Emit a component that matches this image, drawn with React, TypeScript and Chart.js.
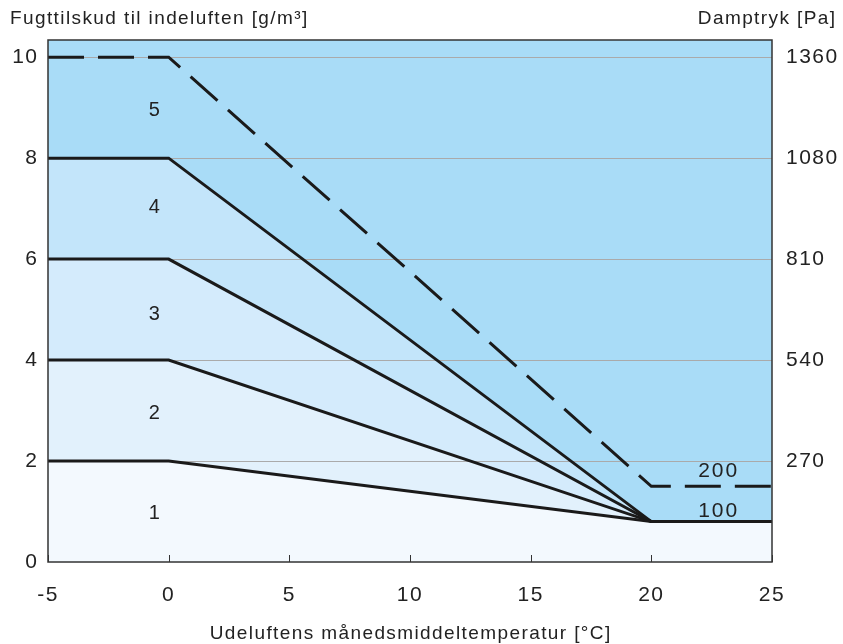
import React, { useEffect, useRef } from "react";
import { Chart, registerables } from "chart.js";

Chart.register(...registerables);

// ---- data ----
const xBreaks = [-5, 0, 20, 25];
const class1Top = [2, 2, 0.8, 0.8];
const class2Top = [4, 4, 0.8, 0.8];
const class3Top = [6, 6, 0.8, 0.8];
const class4Top = [8, 8, 0.8, 0.8];
const class5Top = [10, 10, 1.5, 1.5];
const leftTicks = [0, 2, 4, 6, 8, 10];
const rightTickLabels = ["", "270", "540", "810", "1080", "1360"];
const xTicks = [-5, 0, 5, 10, 15, 20, 25];
const classLabels = ["1", "2", "3", "4", "5"];
const classLabelX = [-0.6, -0.6, -0.6, -0.6, -0.6];
const classLabelY = [0.97, 2.95, 4.9, 7.03, 8.95];
const endLabels = ["200", "100"];
const endLabelX = [22.75, 22.75];
const endLabelY = [1.8, 1.0];

const leftTitle = "Fugttilskud til indeluften [g/m³]";
const rightTitle = "Damptryk [Pa]";
const xTitle = "Udeluftens månedsmiddeltemperatur [°C]";

const FONT = "'Liberation Sans', Arial, Helvetica, sans-serif";
const TEXT = "#222222";
const regionColors = ["#f3f9fe", "#e2f1fc", "#d4ebfc", "#c3e5fa", "#a9dcf7"];

const pts = (ys: number[]) => xBreaks.map((x, i) => ({ x, y: ys[i] }));

export default function App() {
  const ref = useRef<HTMLCanvasElement | null>(null);

  useEffect(() => {
    document.body.style.margin = "0";
    const canvas = ref.current!;
    const line = (ys: number[], fill: any, bg: string, dashed = false) => ({
      data: pts(ys),
      borderColor: "#1a1a1a",
      borderWidth: 3,
      borderDash: dashed ? [36, 14] : [],
      backgroundColor: bg,
      fill,
      pointRadius: 0,
      tension: 0,
    });

    const deco = {
      id: "deco",
      beforeDraw(chart: any) {
        const { ctx, chartArea: a } = chart;
        ctx.save();
        ctx.fillStyle = regionColors[4];
        ctx.fillRect(a.left, a.top, a.right - a.left, a.bottom - a.top);
        ctx.restore();
        (ctx as any).letterSpacing = "1.5px";
      },
      beforeDatasetsDraw(chart: any) {
        const { ctx, chartArea: a, scales } = chart;
        ctx.save();
        ctx.strokeStyle = "#aaaaaa";
        ctx.lineWidth = 1;
        leftTicks.forEach((v) => {
          if (v === 0) return;
          const y = Math.round(scales.y.getPixelForValue(v)) + 0.5;
          ctx.beginPath();
          ctx.moveTo(a.left, y);
          ctx.lineTo(a.right, y);
          ctx.stroke();
        });
        ctx.restore();
      },
      afterDatasetsDraw(chart: any) {
        const { ctx, chartArea: a, scales } = chart;
        ctx.save();
        ctx.fillStyle = TEXT;
        ctx.textAlign = "left";
        ctx.textBaseline = "middle";
        (ctx as any).letterSpacing = "2px";
        const centered = (t: string, x: number, y: number) => {
          const w = ctx.measureText(t).width - 2;
          ctx.fillText(t, x - w / 2, y);
        };
        ctx.font = `20px ${FONT}`;
        classLabels.forEach((t, i) => {
          centered(t, scales.x.getPixelForValue(classLabelX[i]), scales.y.getPixelForValue(classLabelY[i]));
        });
        ctx.font = `21px ${FONT}`;
        endLabels.forEach((t, i) => {
          centered(t, scales.x.getPixelForValue(endLabelX[i]), scales.y.getPixelForValue(endLabelY[i]));
        });
        // box
        ctx.strokeStyle = "#333333";
        ctx.lineWidth = 1.5;
        ctx.strokeRect(a.left, a.top, a.right - a.left, a.bottom - a.top);
        // inside x ticks
        ctx.lineWidth = 1;
        xTicks.forEach((v) => {
          const x = Math.round(scales.x.getPixelForValue(v)) + 0.5;
          ctx.beginPath();
          ctx.moveTo(x, a.bottom);
          ctx.lineTo(x, a.bottom - 7);
          ctx.stroke();
        });
        // titles
        ctx.font = `19px ${FONT}`;
        (ctx as any).letterSpacing = "1.4px";
        ctx.textBaseline = "alphabetic";
        ctx.textAlign = "left";
        ctx.fillText(leftTitle, 10, 24);
        const rw = ctx.measureText(rightTitle).width - 1.4;
        ctx.fillText(rightTitle, 835 - rw, 24);
        const xw = ctx.measureText(xTitle).width - 1.4;
        ctx.fillText(xTitle, (a.left + a.right) / 2 - xw / 2, 639);
        ctx.restore();
      },
    };

    const chart = new Chart(canvas, {
      type: "line",
      data: {
        datasets: [
          line(class1Top, "origin", regionColors[0]),
          line(class2Top, "-1", regionColors[1]),
          line(class3Top, "-1", regionColors[2]),
          line(class4Top, "-1", regionColors[3]),
          line(class5Top, false, "transparent", true),
        ] as any,
      },
      options: {
        responsive: false,
        animation: false,
        layout: { padding: { top: 40, left: 0, right: 0, bottom: 0 } },
        plugins: {
          legend: { display: false },
          tooltip: { enabled: false },
          filler: { drawTime: "beforeDatasetsDraw" } as any,
        },
        scales: {
          x: {
            type: "linear",
            min: -5,
            max: 25,
            afterBuildTicks: (s: any) => {
              s.ticks = xTicks.map((v) => ({ value: v }));
            },
            afterFit: (s: any) => {
              s.height = 82;
            },
            grid: { display: false, drawTicks: false },
            border: { display: false },
            ticks: { padding: 21, color: TEXT, font: { size: 21, family: FONT } },
          },
          y: {
            type: "linear",
            position: "left",
            min: 0,
            max: 10.34,
            afterBuildTicks: (s: any) => {
              s.ticks = leftTicks.map((v) => ({ value: v }));
            },
            afterFit: (s: any) => {
              s.width = 48;
            },
            grid: { display: false, drawTicks: false },
            border: { display: false },
            ticks: { padding: 9.5, color: TEXT, font: { size: 21, family: FONT } },
          },
          y2: {
            type: "linear",
            position: "right",
            min: 0,
            max: 10.34,
            afterBuildTicks: (s: any) => {
              s.ticks = leftTicks.map((v) => ({ value: v }));
            },
            afterFit: (s: any) => {
              s.width = 71;
            },
            grid: { display: false, drawTicks: false },
            border: { display: false },
            ticks: {
              padding: 14,
              color: TEXT,
              font: { size: 21, family: FONT },
              callback: (_v: any, i: number) => rightTickLabels[i],
            },
          },
        },
      },
      plugins: [deco],
    });
    return () => chart.destroy();
  }, []);

  return (
    <div style={{ width: 843, height: 644 }}>
      <canvas ref={ref} width={843} height={644} style={{ display: "block", width: 843, height: 644 }} />
    </div>
  );
}
